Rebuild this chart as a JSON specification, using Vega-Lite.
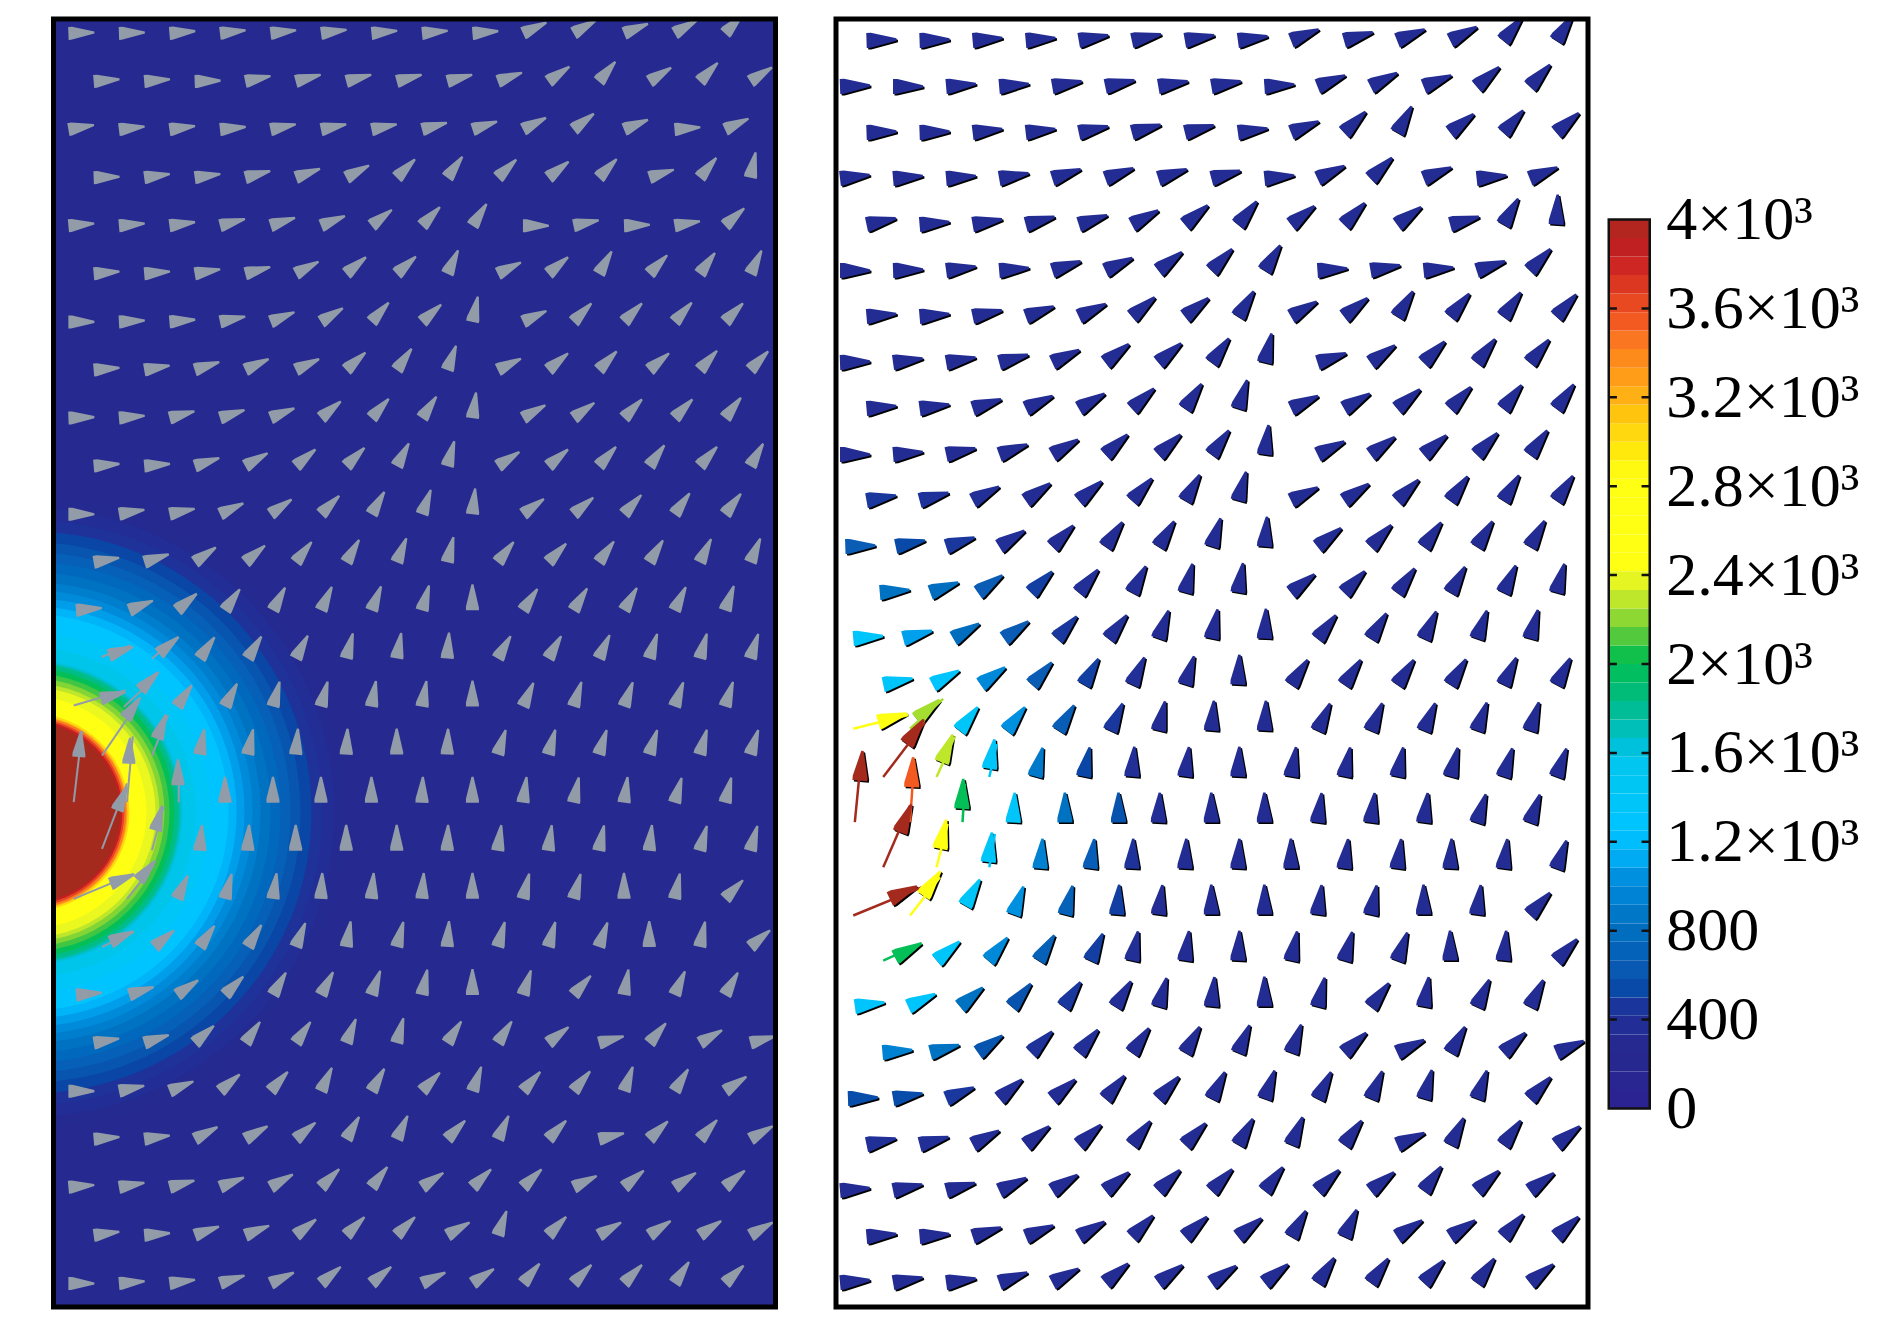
{"$schema":"https://vega.github.io/schema/vega-lite/v6.json","background":"white","padding":{"left":50.5,"top":16,"right":0,"bottom":0},"autosize":{"type":"pad"},"spacing":13.25,"config":{"view":{"stroke":null}},
"datasets":{
"rings":[{"x":-1.5,"y":16.2,"r":326,"v":220},{"x":-1.5,"y":16.2,"r":316,"v":260},{"x":-1.5,"y":16.2,"r":304,"v":330},{"x":-1.5,"y":16.2,"r":292,"v":400},{"x":-1.5,"y":16.2,"r":281,"v":480},{"x":-1.5,"y":16.2,"r":270,"v":560},{"x":-1.5,"y":16.2,"r":260,"v":640},{"x":-1.5,"y":16.2,"r":250,"v":720},{"x":-1.5,"y":16.2,"r":240,"v":800},{"x":-1.5,"y":16.2,"r":230,"v":880},{"x":-1.5,"y":16.2,"r":222,"v":960},{"x":-1.5,"y":16.2,"r":214,"v":1040},{"x":-1.5,"y":16.2,"r":206,"v":1120},{"x":-1.5,"y":16.2,"r":198,"v":1200},{"x":-1.5,"y":16.2,"r":180,"v":1360},{"x":-1.5,"y":16.2,"r":165,"v":1520},{"x":-1.5,"y":16.2,"r":152,"v":1600},{"x":-1.5,"y":16.2,"r":150,"v":1700},{"x":-1.5,"y":16.2,"r":148,"v":1800},{"x":-1.5,"y":16.2,"r":144,"v":1950},{"x":-1.5,"y":16.2,"r":139,"v":2050},{"x":-1.5,"y":16.2,"r":134,"v":2150},{"x":-1.5,"y":16.2,"r":129,"v":2250},{"x":-1.5,"y":16.2,"r":125,"v":2350},{"x":-1.5,"y":16.2,"r":116,"v":2500},{"x":-1.5,"y":16.2,"r":108,"v":2700},{"x":-1.5,"y":16.2,"r":101,"v":2800},{"x":-1.5,"y":16.2,"r":99,"v":3000},{"x":-1.5,"y":16.2,"r":97,"v":3200},{"x":-1.5,"y":16.2,"r":96,"v":3400},{"x":-1.5,"y":16.2,"r":94,"v":3600},{"x":-1.5,"y":16.2,"r":92,"v":3800},{"x":-1.5,"y":16.2,"r":90,"v":4000}],
"LT":[{"x":0.21,"y":13.98,"x2":2.26,"y2":13.66},{"x":2.19,"y":14.01,"x2":3.45,"y2":13.39},{"x":1.33,"y":15.02,"x2":2.78,"y2":13.91},{"x":0.21,"y":15.99,"x2":0.54,"y2":14.51},{"x":2.32,"y":15.99,"x2":2.55,"y2":14.62},{"x":1.33,"y":16.96,"x2":2.32,"y2":15.6},{"x":3.31,"y":15.02,"x2":3.95,"y2":14.18},{"x":4.37,"y":15.99,"x2":4.37,"y2":15.26},{"x":3.31,"y":16.99,"x2":3.77,"y2":16.09},{"x":0.21,"y":18,"x2":2.59,"y2":17.48},{"x":2.32,"y":18,"x2":3.38,"y2":17.3},{"x":1.33,"y":19,"x2":2.59,"y2":18.69},{"x":1.31,"y":12.97,"x2":2.45,"y2":12.73},{"x":3.31,"y":13,"x2":4.17,"y2":12.62}],
"L":[
{"x":0,"y":0,"a":88},{"x":2,"y":0,"a":88},{"x":4,"y":0,"a":85},{"x":6,"y":0,"a":83},{"x":8,"y":0,"a":83},{"x":10,"y":0,"a":82},{"x":12,"y":0,"a":84},{"x":14,"y":0,"a":84},{"x":16,"y":0,"a":85},{"x":18,"y":0,"a":65},{"x":20,"y":0,"a":60},{"x":22,"y":0,"a":68},{"x":24,"y":0,"a":60},{"x":26,"y":0,"a":43},
{"x":1,"y":1,"a":85},{"x":3,"y":1,"a":85},{"x":5,"y":1,"a":88},{"x":7,"y":1,"a":78},{"x":9,"y":1,"a":75},{"x":11,"y":1,"a":75},{"x":13,"y":1,"a":75},{"x":15,"y":1,"a":75},{"x":17,"y":1,"a":70},{"x":19,"y":1,"a":55},{"x":21,"y":1,"a":40},{"x":23,"y":1,"a":58},{"x":25,"y":1,"a":44},{"x":27,"y":1,"a":57},
{"x":0,"y":2,"a":80},{"x":2,"y":2,"a":83},{"x":4,"y":2,"a":82},{"x":6,"y":2,"a":84},{"x":8,"y":2,"a":78},{"x":10,"y":2,"a":78},{"x":12,"y":2,"a":78},{"x":14,"y":2,"a":75},{"x":16,"y":2,"a":72},{"x":18,"y":2,"a":63},{"x":20,"y":2,"a":52},{"x":22,"y":2,"a":68},{"x":24,"y":2,"a":85},{"x":26,"y":2,"a":65},
{"x":1,"y":3,"a":88},{"x":3,"y":3,"a":82},{"x":5,"y":3,"a":82},{"x":7,"y":3,"a":75},{"x":9,"y":3,"a":70},{"x":11,"y":3,"a":62},{"x":13,"y":3,"a":45},{"x":15,"y":3,"a":36},{"x":17,"y":3,"a":46},{"x":19,"y":3,"a":52},{"x":21,"y":3,"a":44},{"x":23,"y":3,"a":72},{"x":25,"y":3,"a":40},{"x":27,"y":3,"a":12},
{"x":0,"y":4,"a":85},{"x":2,"y":4,"a":85},{"x":4,"y":4,"a":82},{"x":6,"y":4,"a":75},{"x":8,"y":4,"a":72},{"x":10,"y":4,"a":68},{"x":12,"y":4,"a":52},{"x":14,"y":4,"a":44},{"x":16,"y":4,"a":33},{"x":18,"y":4,"a":90},{"x":20,"y":4,"a":78},{"x":22,"y":4,"a":88},{"x":24,"y":4,"a":80},{"x":26,"y":4,"a":48},
{"x":1,"y":5,"a":85},{"x":3,"y":5,"a":85},{"x":5,"y":5,"a":80},{"x":7,"y":5,"a":75},{"x":9,"y":5,"a":62},{"x":11,"y":5,"a":50},{"x":13,"y":5,"a":48},{"x":15,"y":5,"a":25},{"x":17,"y":5,"a":64},{"x":19,"y":5,"a":50},{"x":21,"y":5,"a":30},{"x":23,"y":5,"a":44},{"x":25,"y":5,"a":36},{"x":27,"y":5,"a":26},
{"x":0,"y":6,"a":90},{"x":2,"y":6,"a":87},{"x":4,"y":6,"a":85},{"x":6,"y":6,"a":78},{"x":8,"y":6,"a":68},{"x":10,"y":6,"a":58},{"x":12,"y":6,"a":42},{"x":14,"y":6,"a":48},{"x":16,"y":6,"a":12},{"x":18,"y":6,"a":65},{"x":20,"y":6,"a":44},{"x":22,"y":6,"a":44},{"x":24,"y":6,"a":42},{"x":26,"y":6,"a":44},
{"x":1,"y":7,"a":85},{"x":3,"y":7,"a":80},{"x":5,"y":7,"a":72},{"x":7,"y":7,"a":65},{"x":9,"y":7,"a":65},{"x":11,"y":7,"a":48},{"x":13,"y":7,"a":35},{"x":15,"y":7,"a":20},{"x":17,"y":7,"a":64},{"x":19,"y":7,"a":50},{"x":21,"y":7,"a":44},{"x":23,"y":7,"a":50},{"x":25,"y":7,"a":42},{"x":27,"y":7,"a":44},
{"x":0,"y":8,"a":88},{"x":2,"y":8,"a":85},{"x":4,"y":8,"a":75},{"x":6,"y":8,"a":72},{"x":8,"y":8,"a":68},{"x":10,"y":8,"a":50},{"x":12,"y":8,"a":42},{"x":14,"y":8,"a":34},{"x":16,"y":8,"a":8},{"x":18,"y":8,"a":60},{"x":20,"y":8,"a":54},{"x":22,"y":8,"a":44},{"x":24,"y":8,"a":44},{"x":26,"y":8,"a":38},
{"x":1,"y":9,"a":85},{"x":3,"y":9,"a":85},{"x":5,"y":9,"a":72},{"x":7,"y":9,"a":60},{"x":9,"y":9,"a":50},{"x":11,"y":9,"a":45},{"x":13,"y":9,"a":28},{"x":15,"y":9,"a":16},{"x":17,"y":9,"a":57},{"x":19,"y":9,"a":50},{"x":21,"y":9,"a":42},{"x":23,"y":9,"a":36},{"x":25,"y":9,"a":42},{"x":27,"y":9,"a":30},
{"x":0,"y":10,"a":90},{"x":2,"y":10,"a":80},{"x":4,"y":10,"a":78},{"x":6,"y":10,"a":65},{"x":8,"y":10,"a":55},{"x":10,"y":10,"a":45},{"x":12,"y":10,"a":30},{"x":14,"y":10,"a":20},{"x":16,"y":10,"a":6},{"x":18,"y":10,"a":54},{"x":20,"y":10,"a":50},{"x":22,"y":10,"a":42},{"x":24,"y":10,"a":36},{"x":26,"y":10,"a":38},
{"x":1,"y":11,"a":80},{"x":3,"y":11,"a":72},{"x":5,"y":11,"a":55},{"x":7,"y":11,"a":50},{"x":9,"y":11,"a":38},{"x":11,"y":11,"a":30},{"x":13,"y":11,"a":22},{"x":15,"y":11,"a":14},{"x":17,"y":11,"a":38},{"x":19,"y":11,"a":44},{"x":21,"y":11,"a":36},{"x":23,"y":11,"a":32},{"x":25,"y":11,"a":26},{"x":27,"y":11,"a":23},
{"x":0.3,"y":12,"a":85},{"x":2.4,"y":12,"a":68},{"x":4.3,"y":12,"a":50},{"x":6.2,"y":12,"a":35},{"x":8.1,"y":12,"a":28},{"x":10,"y":12,"a":25},{"x":12,"y":12,"a":22},{"x":14,"y":12,"a":16},{"x":16,"y":12,"a":0},{"x":18,"y":12,"a":34},{"x":20,"y":12,"a":32},{"x":22,"y":12,"a":30},{"x":24,"y":12,"a":26},{"x":26,"y":12,"a":20},
{"x":1.6,"y":12.94,"a":70},{"x":3.58,"y":12.9,"a":50},{"x":5.2,"y":13,"a":35},{"x":7.1,"y":13,"a":32},{"x":9,"y":13,"a":28},{"x":11,"y":13,"a":15},{"x":13,"y":13,"a":10},{"x":15,"y":13,"a":4},{"x":17,"y":13,"a":30},{"x":19,"y":13,"a":30},{"x":21,"y":13,"a":25},{"x":23,"y":13,"a":18},{"x":25,"y":13,"a":16},{"x":27,"y":13,"a":18},
{"x":1.27,"y":13.84,"a":75},{"x":2.85,"y":13.66,"a":45},{"x":4.3,"y":14,"a":35},{"x":6.2,"y":14,"a":28},{"x":8.1,"y":14,"a":15},{"x":10,"y":14,"a":15},{"x":12,"y":14,"a":10},{"x":14,"y":14,"a":10},{"x":16,"y":14,"a":0},{"x":18,"y":14,"a":24},{"x":20,"y":14,"a":18},{"x":22,"y":14,"a":20},{"x":24,"y":14,"a":20},{"x":26,"y":14,"a":18},
{"x":2.26,"y":14.25,"a":35},{"x":3.51,"y":14.67,"a":20},{"x":5.2,"y":15,"a":10},{"x":7.1,"y":15,"a":12},{"x":9,"y":15,"a":5},{"x":11,"y":15,"a":3},{"x":13,"y":15,"a":0},{"x":15,"y":15,"a":2},{"x":17,"y":15,"a":18},{"x":19,"y":15,"a":16},{"x":21,"y":15,"a":18},{"x":23,"y":15,"a":18},{"x":25,"y":15,"a":16},{"x":27,"y":15,"a":18},
{"x":0.41,"y":15.05,"a":5},{"x":2.39,"y":15.19,"a":3},{"x":4.34,"y":15.64,"a":0},{"x":6.2,"y":16,"a":0},{"x":8.1,"y":16,"a":0},{"x":10,"y":16,"a":0},{"x":12,"y":16,"a":0},{"x":14,"y":16,"a":2},{"x":16,"y":16,"a":0},{"x":18,"y":16,"a":8},{"x":20,"y":16,"a":12},{"x":22,"y":16,"a":8},{"x":24,"y":16,"a":16},{"x":26,"y":16,"a":14},
{"x":1.93,"y":16.16,"a":22},{"x":3.45,"y":16.58,"a":15},{"x":5.2,"y":17,"a":5},{"x":7.1,"y":17,"a":3},{"x":9,"y":17,"a":0},{"x":11,"y":17,"a":0},{"x":13,"y":17,"a":0},{"x":15,"y":17,"a":2},{"x":17,"y":17,"a":8},{"x":19,"y":17,"a":8},{"x":21,"y":17,"a":12},{"x":23,"y":17,"a":6},{"x":25,"y":17,"a":16},{"x":27,"y":17,"a":16},
{"x":1.66,"y":17.69,"a":68},{"x":2.78,"y":17.62,"a":40},{"x":4.3,"y":18,"a":25},{"x":6.2,"y":18,"a":15},{"x":8.1,"y":18,"a":8},{"x":10,"y":18,"a":3},{"x":12,"y":18,"a":5},{"x":14,"y":18,"a":4},{"x":16,"y":18,"a":0},{"x":18,"y":18,"a":14},{"x":20,"y":18,"a":16},{"x":22,"y":18,"a":0},{"x":24,"y":18,"a":12},{"x":26,"y":18,"a":44},
{"x":1.66,"y":18.9,"a":65},{"x":3.4,"y":19,"a":50},{"x":5.2,"y":19,"a":35},{"x":7.1,"y":19,"a":32},{"x":9,"y":19,"a":22},{"x":11,"y":19,"a":10},{"x":13,"y":19,"a":15},{"x":15,"y":19,"a":4},{"x":17,"y":19,"a":16},{"x":19,"y":19,"a":16},{"x":21,"y":19,"a":20},{"x":23,"y":19,"a":0},{"x":25,"y":19,"a":12},{"x":27,"y":19,"a":50},
{"x":0.3,"y":20,"a":85},{"x":2.4,"y":20,"a":72},{"x":4.3,"y":20,"a":55},{"x":6.2,"y":20,"a":45},{"x":8.1,"y":20,"a":30},{"x":10,"y":20,"a":28},{"x":12,"y":20,"a":20},{"x":14,"y":20,"a":12},{"x":16,"y":20,"a":0},{"x":18,"y":20,"a":18},{"x":20,"y":20,"a":42},{"x":22,"y":20,"a":10},{"x":24,"y":20,"a":24},{"x":26,"y":20,"a":30},
{"x":1,"y":21,"a":80},{"x":3,"y":21,"a":72},{"x":5,"y":21,"a":48},{"x":7,"y":21,"a":35},{"x":9,"y":21,"a":35},{"x":11,"y":21,"a":22},{"x":13,"y":21,"a":15},{"x":15,"y":21,"a":33},{"x":17,"y":21,"a":33},{"x":19,"y":21,"a":52},{"x":21,"y":21,"a":75},{"x":23,"y":21,"a":40},{"x":25,"y":21,"a":60},{"x":27,"y":21,"a":75},
{"x":0,"y":22,"a":90},{"x":2,"y":22,"a":78},{"x":4,"y":22,"a":68},{"x":6,"y":22,"a":50},{"x":8,"y":22,"a":42},{"x":10,"y":22,"a":25},{"x":12,"y":22,"a":30},{"x":14,"y":22,"a":44},{"x":16,"y":22,"a":20},{"x":18,"y":22,"a":42},{"x":20,"y":22,"a":40},{"x":22,"y":22,"a":20},{"x":24,"y":22,"a":32},{"x":26,"y":22,"a":56},
{"x":1,"y":23,"a":85},{"x":3,"y":23,"a":82},{"x":5,"y":23,"a":62},{"x":7,"y":23,"a":60},{"x":9,"y":23,"a":50},{"x":11,"y":23,"a":30},{"x":13,"y":23,"a":25},{"x":15,"y":23,"a":44},{"x":17,"y":23,"a":25},{"x":19,"y":23,"a":44},{"x":21,"y":23,"a":77},{"x":23,"y":23,"a":46},{"x":25,"y":23,"a":42},{"x":27,"y":23,"a":60},
{"x":0,"y":24,"a":85},{"x":2,"y":24,"a":80},{"x":4,"y":24,"a":75},{"x":6,"y":24,"a":68},{"x":8,"y":24,"a":60},{"x":10,"y":24,"a":45},{"x":12,"y":24,"a":38},{"x":14,"y":24,"a":56},{"x":16,"y":24,"a":46},{"x":18,"y":24,"a":46},{"x":20,"y":24,"a":64},{"x":22,"y":24,"a":50},{"x":24,"y":24,"a":56},{"x":26,"y":24,"a":50},
{"x":1,"y":25,"a":82},{"x":3,"y":25,"a":85},{"x":5,"y":25,"a":70},{"x":7,"y":25,"a":68},{"x":9,"y":25,"a":52},{"x":11,"y":25,"a":45},{"x":13,"y":25,"a":45},{"x":15,"y":25,"a":60},{"x":17,"y":25,"a":20},{"x":19,"y":25,"a":44},{"x":21,"y":25,"a":60},{"x":23,"y":25,"a":56},{"x":25,"y":25,"a":56},{"x":27,"y":25,"a":60},
{"x":0,"y":26,"a":90},{"x":2,"y":26,"a":85},{"x":4,"y":26,"a":82},{"x":6,"y":26,"a":72},{"x":8,"y":26,"a":65},{"x":10,"y":26,"a":50},{"x":12,"y":26,"a":50},{"x":14,"y":26,"a":65},{"x":16,"y":26,"a":56},{"x":18,"y":26,"a":40},{"x":20,"y":26,"a":44},{"x":22,"y":26,"a":44},{"x":24,"y":26,"a":34},{"x":26,"y":26,"a":46}],
"RT":[{"x":0.5,"y":14.96,"x2":2.57,"y2":14.66,"v":2650},{"x":2.64,"y":14.96,"x2":3.89,"y2":14.31,"v":2200},{"x":1.63,"y":16.01,"x2":3.2,"y2":14.82,"v":4000},{"x":3.64,"y":16.01,"x2":4.33,"y2":15.13,"v":2250},{"x":5.63,"y":16.01,"x2":5.91,"y2":15.29,"v":1350},{"x":0.56,"y":16.99,"x2":0.81,"y2":15.51,"v":4000},{"x":2.64,"y":16.99,"x2":2.8,"y2":15.65,"v":3500},{"x":4.62,"y":16.99,"x2":4.71,"y2":16.16,"v":1950},{"x":1.63,"y":17.97,"x2":2.64,"y2":16.63,"v":4000},{"x":3.64,"y":17.97,"x2":4.06,"y2":17.03,"v":2650},{"x":5.63,"y":17.97,"x2":5.84,"y2":17.25,"v":1350},{"x":0.5,"y":19.02,"x2":3.08,"y2":18.41,"v":4000},{"x":2.64,"y":19.02,"x2":3.77,"y2":18.19,"v":2650},{"x":1.63,"y":20,"x2":3.08,"y2":19.62,"v":1950}],
"R":[
{"x":1,"y":0,"a":88,"v":300},{"x":3,"y":0,"a":88,"v":300},{"x":5,"y":0,"a":85,"v":300},{"x":7,"y":0,"a":85,"v":300},{"x":9,"y":0,"a":80,"v":300},{"x":11,"y":0,"a":78,"v":300},{"x":13,"y":0,"a":80,"v":300},{"x":15,"y":0,"a":82,"v":300},{"x":17,"y":0,"a":68,"v":300},{"x":19,"y":0,"a":74,"v":300},{"x":21,"y":0,"a":68,"v":300},{"x":23,"y":0,"a":63,"v":300},{"x":25,"y":0,"a":39,"v":300},{"x":27,"y":0,"a":33,"v":300},
{"x":0,"y":1,"a":88,"v":300},{"x":2,"y":1,"a":90,"v":300},{"x":4,"y":1,"a":85,"v":300},{"x":6,"y":1,"a":85,"v":300},{"x":8,"y":1,"a":80,"v":300},{"x":10,"y":1,"a":78,"v":300},{"x":12,"y":1,"a":80,"v":300},{"x":14,"y":1,"a":80,"v":300},{"x":16,"y":1,"a":86,"v":300},{"x":18,"y":1,"a":68,"v":300},{"x":20,"y":1,"a":63,"v":300},{"x":22,"y":1,"a":68,"v":300},{"x":24,"y":1,"a":49,"v":300},{"x":26,"y":1,"a":43,"v":300},
{"x":1,"y":2,"a":88,"v":300},{"x":3,"y":2,"a":88,"v":300},{"x":5,"y":2,"a":83,"v":300},{"x":7,"y":2,"a":83,"v":300},{"x":9,"y":2,"a":78,"v":300},{"x":11,"y":2,"a":75,"v":300},{"x":13,"y":2,"a":76,"v":300},{"x":15,"y":2,"a":82,"v":300},{"x":17,"y":2,"a":68,"v":300},{"x":19,"y":2,"a":46,"v":300},{"x":21,"y":2,"a":29,"v":300},{"x":23,"y":2,"a":52,"v":300},{"x":25,"y":2,"a":42,"v":300},{"x":27,"y":2,"a":49,"v":300},
{"x":0,"y":3,"a":83,"v":300},{"x":2,"y":3,"a":85,"v":300},{"x":4,"y":3,"a":85,"v":300},{"x":6,"y":3,"a":80,"v":300},{"x":8,"y":3,"a":72,"v":300},{"x":10,"y":3,"a":70,"v":300},{"x":12,"y":3,"a":72,"v":300},{"x":14,"y":3,"a":75,"v":300},{"x":16,"y":3,"a":84,"v":300},{"x":18,"y":3,"a":65,"v":300},{"x":20,"y":3,"a":46,"v":300},{"x":22,"y":3,"a":68,"v":300},{"x":24,"y":3,"a":84,"v":300},{"x":26,"y":3,"a":68,"v":300},
{"x":1,"y":4,"a":78,"v":300},{"x":3,"y":4,"a":85,"v":300},{"x":5,"y":4,"a":80,"v":300},{"x":7,"y":4,"a":75,"v":300},{"x":9,"y":4,"a":72,"v":300},{"x":11,"y":4,"a":62,"v":300},{"x":13,"y":4,"a":50,"v":300},{"x":15,"y":4,"a":39,"v":300},{"x":17,"y":4,"a":52,"v":300},{"x":19,"y":4,"a":44,"v":300},{"x":21,"y":4,"a":54,"v":300},{"x":23,"y":4,"a":75,"v":300},{"x":25,"y":4,"a":30,"v":300},{"x":27,"y":4,"a":3,"v":300},
{"x":0,"y":5,"a":90,"v":300},{"x":2,"y":5,"a":88,"v":300},{"x":4,"y":5,"a":82,"v":300},{"x":6,"y":5,"a":85,"v":300},{"x":8,"y":5,"a":72,"v":300},{"x":10,"y":5,"a":65,"v":300},{"x":12,"y":5,"a":52,"v":300},{"x":14,"y":5,"a":44,"v":300},{"x":16,"y":5,"a":32,"v":300},{"x":18,"y":5,"a":86,"v":300},{"x":20,"y":5,"a":80,"v":300},{"x":22,"y":5,"a":84,"v":300},{"x":24,"y":5,"a":72,"v":300},{"x":26,"y":5,"a":44,"v":300},
{"x":1,"y":6,"a":85,"v":300},{"x":3,"y":6,"a":85,"v":300},{"x":5,"y":6,"a":78,"v":300},{"x":7,"y":6,"a":70,"v":300},{"x":9,"y":6,"a":65,"v":300},{"x":11,"y":6,"a":50,"v":300},{"x":13,"y":6,"a":52,"v":300},{"x":15,"y":6,"a":32,"v":300},{"x":17,"y":6,"a":60,"v":300},{"x":19,"y":6,"a":52,"v":300},{"x":21,"y":6,"a":32,"v":300},{"x":23,"y":6,"a":40,"v":300},{"x":25,"y":6,"a":36,"v":300},{"x":27,"y":6,"a":42,"v":300},
{"x":0,"y":7,"a":88,"v":300},{"x":2,"y":7,"a":82,"v":300},{"x":4,"y":7,"a":80,"v":300},{"x":6,"y":7,"a":75,"v":300},{"x":8,"y":7,"a":65,"v":300},{"x":10,"y":7,"a":52,"v":300},{"x":12,"y":7,"a":50,"v":300},{"x":14,"y":7,"a":36,"v":300},{"x":16,"y":7,"a":14,"v":300},{"x":18,"y":7,"a":72,"v":300},{"x":20,"y":7,"a":55,"v":300},{"x":22,"y":7,"a":45,"v":300},{"x":24,"y":7,"a":38,"v":300},{"x":26,"y":7,"a":40,"v":300},
{"x":1,"y":8,"a":85,"v":300},{"x":3,"y":8,"a":82,"v":300},{"x":5,"y":8,"a":72,"v":300},{"x":7,"y":8,"a":65,"v":300},{"x":9,"y":8,"a":60,"v":300},{"x":11,"y":8,"a":48,"v":300},{"x":13,"y":8,"a":34,"v":300},{"x":15,"y":8,"a":18,"v":300},{"x":17,"y":8,"a":65,"v":300},{"x":19,"y":8,"a":60,"v":300},{"x":21,"y":8,"a":50,"v":300},{"x":23,"y":8,"a":44,"v":300},{"x":25,"y":8,"a":38,"v":300},{"x":27,"y":8,"a":36,"v":300},
{"x":0,"y":9,"a":90,"v":300},{"x":2,"y":9,"a":85,"v":300},{"x":4,"y":9,"a":78,"v":300},{"x":6,"y":9,"a":70,"v":300},{"x":8,"y":9,"a":60,"v":300},{"x":10,"y":9,"a":48,"v":300},{"x":12,"y":9,"a":48,"v":300},{"x":14,"y":9,"a":36,"v":300},{"x":16,"y":9,"a":8,"v":300},{"x":18,"y":9,"a":64,"v":300},{"x":20,"y":9,"a":54,"v":300},{"x":22,"y":9,"a":50,"v":300},{"x":24,"y":9,"a":44,"v":300},{"x":26,"y":9,"a":36,"v":300},
{"x":1,"y":10,"a":80,"v":420},{"x":3,"y":10,"a":75,"v":400},{"x":5,"y":10,"a":62,"v":350},{"x":7,"y":10,"a":55,"v":300},{"x":9,"y":10,"a":50,"v":300},{"x":11,"y":10,"a":42,"v":300},{"x":13,"y":10,"a":30,"v":300},{"x":15,"y":10,"a":16,"v":300},{"x":17,"y":10,"a":64,"v":300},{"x":19,"y":10,"a":56,"v":300},{"x":21,"y":10,"a":46,"v":300},{"x":23,"y":10,"a":36,"v":300},{"x":25,"y":10,"a":32,"v":300},{"x":27,"y":10,"a":34,"v":300},
{"x":0.2,"y":11,"a":88,"v":600},{"x":2.1,"y":11,"a":78,"v":500},{"x":4,"y":11,"a":72,"v":420},{"x":6,"y":11,"a":58,"v":350},{"x":8,"y":11,"a":45,"v":300},{"x":10,"y":11,"a":35,"v":300},{"x":12,"y":11,"a":32,"v":300},{"x":14,"y":11,"a":18,"v":300},{"x":16,"y":11,"a":5,"v":300},{"x":18,"y":11,"a":52,"v":300},{"x":20,"y":11,"a":44,"v":300},{"x":22,"y":11,"a":36,"v":300},{"x":24,"y":11,"a":32,"v":300},{"x":26,"y":11,"a":30,"v":300},
{"x":1.5,"y":12,"a":85,"v":800},{"x":3.4,"y":12,"a":70,"v":750},{"x":5.2,"y":12,"a":55,"v":600},{"x":7.2,"y":12,"a":45,"v":450},{"x":9,"y":12,"a":40,"v":350},{"x":11,"y":12,"a":28,"v":320},{"x":13,"y":12,"a":15,"v":300},{"x":15,"y":12,"a":10,"v":300},{"x":17,"y":12,"a":52,"v":300},{"x":19,"y":12,"a":44,"v":300},{"x":21,"y":12,"a":36,"v":300},{"x":23,"y":12,"a":30,"v":300},{"x":25,"y":12,"a":25,"v":300},{"x":27,"y":12,"a":16,"v":300},
{"x":0.5,"y":13,"a":85,"v":1300},{"x":2.38,"y":13,"a":75,"v":1050},{"x":4.27,"y":13,"a":60,"v":750},{"x":6.18,"y":13,"a":55,"v":600},{"x":8.17,"y":13,"a":42,"v":420},{"x":10.12,"y":13,"a":38,"v":350},{"x":12,"y":13,"a":20,"v":300},{"x":14,"y":13,"a":12,"v":300},{"x":16,"y":13,"a":3,"v":300},{"x":18,"y":13,"a":38,"v":300},{"x":20,"y":13,"a":32,"v":300},{"x":22,"y":13,"a":25,"v":300},{"x":24,"y":13,"a":20,"v":300},{"x":26,"y":13,"a":16,"v":300},
{"x":1.63,"y":14,"a":78,"v":1300},{"x":3.49,"y":14,"a":62,"v":1250},{"x":5.3,"y":14,"a":55,"v":950},{"x":7.23,"y":14,"a":42,"v":600},{"x":9.18,"y":14,"a":30,"v":450},{"x":11,"y":14,"a":25,"v":350},{"x":13,"y":14,"a":18,"v":300},{"x":15,"y":14,"a":3,"v":300},{"x":17,"y":14,"a":34,"v":300},{"x":19,"y":14,"a":34,"v":300},{"x":21,"y":14,"a":34,"v":300},{"x":23,"y":14,"a":32,"v":300},{"x":25,"y":14,"a":26,"v":300},{"x":27,"y":14,"a":28,"v":300},
{"x":1.44,"y":14.82,"a":73,"v":2650},{"x":2.89,"y":14.75,"a":50,"v":2200},{"x":4.5,"y":15,"a":38,"v":1350},{"x":6.28,"y":15,"a":38,"v":1000},{"x":8.23,"y":15,"a":32,"v":620},{"x":10.18,"y":15,"a":25,"v":420},{"x":12,"y":15,"a":13,"v":300},{"x":14,"y":15,"a":5,"v":300},{"x":16,"y":15,"a":3,"v":300},{"x":18,"y":15,"a":25,"v":300},{"x":20,"y":15,"a":23,"v":300},{"x":22,"y":15,"a":23,"v":300},{"x":24,"y":15,"a":20,"v":300},{"x":26,"y":15,"a":18,"v":300},
{"x":2.51,"y":15.29,"a":35,"v":4000},{"x":3.83,"y":15.69,"a":22,"v":2250},{"x":5.63,"y":15.83,"a":10,"v":1350},{"x":7.35,"y":16,"a":15,"v":850},{"x":9.18,"y":16,"a":12,"v":480},{"x":11,"y":16,"a":5,"v":350},{"x":13,"y":16,"a":8,"v":300},{"x":15,"y":16,"a":3,"v":300},{"x":17,"y":16,"a":10,"v":300},{"x":19,"y":16,"a":12,"v":300},{"x":21,"y":16,"a":12,"v":300},{"x":23,"y":16,"a":15,"v":300},{"x":25,"y":16,"a":18,"v":300},{"x":27,"y":16,"a":20,"v":300},
{"x":0.75,"y":16.09,"a":5,"v":4000},{"x":2.7,"y":16.23,"a":3,"v":3500},{"x":4.59,"y":16.7,"a":3,"v":1950},{"x":6.53,"y":17,"a":3,"v":1300},{"x":8.48,"y":17,"a":0,"v":800},{"x":10.5,"y":17,"a":0,"v":550},{"x":12,"y":17,"a":3,"v":320},{"x":14,"y":17,"a":0,"v":300},{"x":16,"y":17,"a":0,"v":300},{"x":18,"y":17,"a":8,"v":300},{"x":20,"y":17,"a":8,"v":300},{"x":22,"y":17,"a":8,"v":300},{"x":24,"y":17,"a":18,"v":300},{"x":26,"y":17,"a":20,"v":300},
{"x":2.26,"y":17.21,"a":22,"v":4000},{"x":3.77,"y":17.57,"a":12,"v":2650},{"x":5.59,"y":17.86,"a":7,"v":1350},{"x":7.54,"y":18,"a":5,"v":900},{"x":9.43,"y":18,"a":8,"v":620},{"x":11,"y":18,"a":3,"v":400},{"x":13,"y":18,"a":3,"v":300},{"x":15,"y":18,"a":3,"v":300},{"x":17,"y":18,"a":0,"v":300},{"x":19,"y":18,"a":8,"v":300},{"x":21,"y":18,"a":8,"v":300},{"x":23,"y":18,"a":3,"v":300},{"x":25,"y":18,"a":8,"v":300},{"x":27,"y":18,"a":20,"v":300},
{"x":1.88,"y":18.66,"a":65,"v":4000},{"x":3.14,"y":18.59,"a":35,"v":2650},{"x":4.71,"y":18.8,"a":30,"v":1350},{"x":6.53,"y":19,"a":20,"v":1000},{"x":8.48,"y":19,"a":15,"v":650},{"x":10.43,"y":19,"a":5,"v":450},{"x":12,"y":19,"a":8,"v":300},{"x":14,"y":19,"a":0,"v":300},{"x":16,"y":19,"a":0,"v":300},{"x":18,"y":19,"a":8,"v":300},{"x":20,"y":19,"a":12,"v":300},{"x":22,"y":19,"a":0,"v":300},{"x":24,"y":19,"a":8,"v":300},{"x":26,"y":19,"a":43,"v":300},
{"x":2.07,"y":19.93,"a":62,"v":1950},{"x":3.64,"y":20,"a":50,"v":1300},{"x":5.59,"y":20,"a":40,"v":950},{"x":7.48,"y":20,"a":32,"v":650},{"x":9.43,"y":20,"a":25,"v":450},{"x":11,"y":20,"a":12,"v":350},{"x":13,"y":20,"a":8,"v":300},{"x":15,"y":20,"a":3,"v":300},{"x":17,"y":20,"a":12,"v":300},{"x":19,"y":20,"a":16,"v":300},{"x":21,"y":20,"a":20,"v":300},{"x":23,"y":20,"a":0,"v":300},{"x":25,"y":20,"a":6,"v":300},{"x":27,"y":20,"a":44,"v":300},
{"x":0.56,"y":21,"a":82,"v":1250},{"x":2.57,"y":21,"a":65,"v":1250},{"x":4.52,"y":21,"a":50,"v":800},{"x":6.47,"y":21,"a":40,"v":550},{"x":8.42,"y":21,"a":35,"v":420},{"x":10.37,"y":21,"a":32,"v":320},{"x":12,"y":21,"a":16,"v":300},{"x":14,"y":21,"a":6,"v":300},{"x":16,"y":21,"a":0,"v":300},{"x":18,"y":21,"a":14,"v":300},{"x":20,"y":21,"a":38,"v":300},{"x":22,"y":21,"a":10,"v":300},{"x":24,"y":21,"a":25,"v":300},{"x":26,"y":21,"a":27,"v":300},
{"x":1.6,"y":22,"a":85,"v":900},{"x":3.4,"y":22,"a":75,"v":800},{"x":5.2,"y":22,"a":55,"v":560},{"x":7.2,"y":22,"a":45,"v":400},{"x":9,"y":22,"a":40,"v":350},{"x":11,"y":22,"a":35,"v":300},{"x":13,"y":22,"a":30,"v":300},{"x":15,"y":22,"a":23,"v":300},{"x":17,"y":22,"a":20,"v":300},{"x":19,"y":22,"a":48,"v":300},{"x":21,"y":22,"a":65,"v":300},{"x":23,"y":22,"a":30,"v":300},{"x":25,"y":22,"a":48,"v":300},{"x":27,"y":22,"a":67,"v":300},
{"x":0.3,"y":23,"a":88,"v":520},{"x":2,"y":23,"a":80,"v":520},{"x":4,"y":23,"a":68,"v":420},{"x":6,"y":23,"a":50,"v":320},{"x":8,"y":23,"a":50,"v":300},{"x":10,"y":23,"a":40,"v":300},{"x":12,"y":23,"a":43,"v":300},{"x":14,"y":23,"a":27,"v":300},{"x":16,"y":23,"a":20,"v":300},{"x":18,"y":23,"a":27,"v":300},{"x":20,"y":23,"a":23,"v":300},{"x":22,"y":23,"a":16,"v":300},{"x":24,"y":23,"a":20,"v":300},{"x":26,"y":23,"a":44,"v":300},
{"x":1,"y":24,"a":78,"v":360},{"x":3,"y":24,"a":75,"v":340},{"x":5,"y":24,"a":62,"v":320},{"x":7,"y":24,"a":52,"v":300},{"x":9,"y":24,"a":48,"v":300},{"x":11,"y":24,"a":38,"v":300},{"x":13,"y":24,"a":44,"v":300},{"x":15,"y":24,"a":30,"v":300},{"x":17,"y":24,"a":23,"v":300},{"x":19,"y":24,"a":36,"v":300},{"x":21,"y":24,"a":67,"v":300},{"x":23,"y":24,"a":27,"v":300},{"x":25,"y":24,"a":36,"v":300},{"x":27,"y":24,"a":52,"v":300},
{"x":0,"y":25,"a":85,"v":300},{"x":2,"y":25,"a":78,"v":300},{"x":4,"y":25,"a":75,"v":300},{"x":6,"y":25,"a":65,"v":300},{"x":8,"y":25,"a":58,"v":300},{"x":10,"y":25,"a":52,"v":300},{"x":12,"y":25,"a":46,"v":300},{"x":14,"y":25,"a":44,"v":300},{"x":16,"y":25,"a":38,"v":300},{"x":18,"y":25,"a":46,"v":300},{"x":20,"y":25,"a":52,"v":300},{"x":22,"y":25,"a":36,"v":300},{"x":24,"y":25,"a":48,"v":300},{"x":26,"y":25,"a":54,"v":300},
{"x":1,"y":26,"a":85,"v":300},{"x":3,"y":26,"a":85,"v":300},{"x":5,"y":26,"a":72,"v":300},{"x":7,"y":26,"a":68,"v":300},{"x":9,"y":26,"a":60,"v":300},{"x":11,"y":26,"a":45,"v":300},{"x":13,"y":26,"a":48,"v":300},{"x":15,"y":26,"a":52,"v":300},{"x":17,"y":26,"a":30,"v":300},{"x":19,"y":26,"a":25,"v":300},{"x":21,"y":26,"a":57,"v":300},{"x":23,"y":26,"a":57,"v":300},{"x":25,"y":26,"a":42,"v":300},{"x":27,"y":26,"a":48,"v":300},
{"x":0,"y":27,"a":85,"v":300},{"x":2,"y":27,"a":80,"v":300},{"x":4,"y":27,"a":82,"v":300},{"x":6,"y":27,"a":70,"v":300},{"x":8,"y":27,"a":62,"v":300},{"x":10,"y":27,"a":50,"v":300},{"x":12,"y":27,"a":54,"v":300},{"x":14,"y":27,"a":56,"v":300},{"x":16,"y":27,"a":52,"v":300},{"x":18,"y":27,"a":34,"v":300},{"x":20,"y":27,"a":36,"v":300},{"x":22,"y":27,"a":42,"v":300},{"x":24,"y":27,"a":36,"v":300},{"x":26,"y":27,"a":52,"v":300}],
"bands":[{"a":0,"b":83},{"a":83,"b":167},{"a":167,"b":250},{"a":250,"b":333},{"a":333,"b":417},{"a":417,"b":500},{"a":500,"b":583},{"a":583,"b":667},{"a":667,"b":750},{"a":750,"b":833},{"a":833,"b":917},{"a":917,"b":1000},{"a":1000,"b":1083},{"a":1083,"b":1167},{"a":1167,"b":1250},{"a":1250,"b":1333},{"a":1333,"b":1417},{"a":1417,"b":1500},{"a":1500,"b":1583},{"a":1583,"b":1667},{"a":1667,"b":1750},{"a":1750,"b":1833},{"a":1833,"b":1917},{"a":1917,"b":2000},{"a":2000,"b":2083},{"a":2083,"b":2167},{"a":2167,"b":2250},{"a":2250,"b":2333},{"a":2333,"b":2417},{"a":2417,"b":2500},{"a":2500,"b":2583},{"a":2583,"b":2667},{"a":2667,"b":2750},{"a":2750,"b":2833},{"a":2833,"b":2917},{"a":2917,"b":3000},{"a":3000,"b":3083},{"a":3083,"b":3167},{"a":3167,"b":3250},{"a":3250,"b":3333},{"a":3333,"b":3417},{"a":3417,"b":3500},{"a":3500,"b":3583},{"a":3583,"b":3667},{"a":3667,"b":3750},{"a":3750,"b":3833},{"a":3833,"b":3917},{"a":3917,"b":4000}],
"ticks":[{"a":400},{"a":800},{"a":1200},{"a":1600},{"a":2000},{"a":2400},{"a":2800},{"a":3200},{"a":3600}]
},
"hconcat":[{"spacing":54.5,"hconcat":[
{"width":722,"height":1288,"view":{"fill":"#26298f","stroke":null},
"encoding":{"x":{"field":"x","type":"quantitative","axis":null,"scale":{"domain":[-0.59,28],"nice":false,"zero":false}},"y":{"field":"y","type":"quantitative","axis":null,"scale":{"domain":[26.49,-0.3],"nice":false,"zero":false}}},
"layer":[
{"data":{"name":"rings"},"mark":{"type":"point","filled":true,"opacity":1,"clip":true},"encoding":{"size":{"field":"r","type":"quantitative","legend":null,"scale":{"type":"pow","exponent":2,"domain":[0,320],"range":[0,409600]}},"color":{"field":"v","type":"quantitative","legend":null,"scale":{"domain":[0,240,400,480,600,800,1000,1100,1200,1500,1600,1700,1850,2000,2100,2200,2300,2400,2800,3000,3200,3400,3500,3650,3800,4000],"range":["#2b2392","#26298f","#1e329a","#0a46a5","#0a5cb4","#0072c2","#0090e0","#00b0f8","#00c4ff","#00c6f0","#00c0d8","#00bda8","#0cbc70","#10c04a","#5ccc3c","#a4de30","#d8f028","#ffff14","#ffff14","#ffd80f","#ffa818","#fb7c20","#f35a22","#df3a21","#c61d23","#a52a1e"]}}}},
{"data":{"name":"LT"},"mark":{"type":"rule","color":"#929ca8","strokeWidth":2,"clip":true},"encoding":{"x2":{"field":"x2"},"y2":{"field":"y2"}}},
{"data":{"name":"L"},"mark":{"type":"point","filled":true,"opacity":1,"color":"#929ca8","size":2704,"clip":true,"shape":"M-0.25,0 L-0.25,-0.15 L-0.04,-1 L0.04,-1 L0.25,-0.1 L0.25,0 Z"},"encoding":{"angle":{"field":"a","type":"quantitative","scale":null}}},
{"data":{"values":[{"x":-0.59,"y":26.49,"x2":28,"y2":-0.3}]},"mark":{"type":"rect","filled":false,"stroke":"black","strokeWidth":5},"encoding":{"x2":{"field":"x2"},"y2":{"field":"y2"}}}
]},
{"width":752,"height":1288,
"encoding":{"x":{"field":"x","type":"quantitative","axis":null,"scale":{"domain":[-0.15,28.2],"nice":false,"zero":false}},"y":{"field":"y","type":"quantitative","axis":null,"scale":{"domain":[27.53,-0.467],"nice":false,"zero":false}}},
"layer":[
{"data":{"name":"R"},"mark":{"type":"point","filled":true,"opacity":1,"color":"black","size":3600,"clip":true,"xOffset":1.5,"yOffset":1.5,"shape":"M-0.25,0 L-0.25,-0.15 L-0.04,-1 L0.04,-1 L0.25,-0.1 L0.25,0 Z"},"encoding":{"angle":{"field":"a","type":"quantitative","scale":null}}},
{"data":{"name":"RT"},"mark":{"type":"rule","strokeWidth":2.5},"encoding":{"x2":{"field":"x2"},"y2":{"field":"y2"},"color":{"field":"v","type":"quantitative","legend":null,"scale":{"domain":[0,240,400,480,600,800,1000,1100,1200,1500,1600,1700,1850,2000,2100,2200,2300,2400,2800,3000,3200,3400,3500,3650,3800,4000],"range":["#2b2392","#26298f","#1e329a","#0a46a5","#0a5cb4","#0072c2","#0090e0","#00b0f8","#00c4ff","#00c6f0","#00c0d8","#00bda8","#0cbc70","#10c04a","#5ccc3c","#a4de30","#d8f028","#ffff14","#ffff14","#ffd80f","#ffa818","#fb7c20","#f35a22","#df3a21","#c61d23","#a52a1e"]}}}},
{"data":{"name":"R"},"mark":{"type":"point","filled":true,"opacity":1,"size":3600,"clip":true,"shape":"M-0.25,0 L-0.25,-0.15 L-0.04,-1 L0.04,-1 L0.25,-0.1 L0.25,0 Z"},"encoding":{"angle":{"field":"a","type":"quantitative","scale":null},"color":{"field":"v","type":"quantitative","legend":null,"scale":{"domain":[0,240,400,480,600,800,1000,1100,1200,1500,1600,1700,1850,2000,2100,2200,2300,2400,2800,3000,3200,3400,3500,3650,3800,4000],"range":["#2b2392","#26298f","#1e329a","#0a46a5","#0a5cb4","#0072c2","#0090e0","#00b0f8","#00c4ff","#00c6f0","#00c0d8","#00bda8","#0cbc70","#10c04a","#5ccc3c","#a4de30","#d8f028","#ffff14","#ffff14","#ffd80f","#ffa818","#fb7c20","#f35a22","#df3a21","#c61d23","#a52a1e"]}}}},
{"data":{"values":[{"x":-0.15,"y":27.53,"x2":28.2,"y2":-0.467}]},"mark":{"type":"rect","filled":false,"stroke":"black","strokeWidth":5},"encoding":{"x2":{"field":"x2"},"y2":{"field":"y2"}}}
]}
]},
{"width":41,"height":1288,
"encoding":{"y":{"field":"a","type":"quantitative","scale":{"domain":[-893,4902],"nice":false,"zero":false},"axis":{"orient":"right","title":null,"domain":false,"ticks":false,"grid":false,"values":[0,400,800,1200,1600,2000,2400,2800,3200,3600,4000],"labelExpr":"datum.value<1000?datum.value:(datum.value/1000)+'×10³'","labelFont":"Liberation Serif","labelFontSize":62,"labelColor":"black","labelPadding":16,"labelLimit":500,"labelOverlap":false,"labelBaseline":"middle","labelFlush":false,"labelBound":false}}},
"layer":[
{"data":{"name":"bands"},"mark":{"type":"rect"},"encoding":{"y2":{"field":"b"},"color":{"field":"a","type":"quantitative","legend":null,"scale":{"domain":[0,240,400,480,600,800,1000,1100,1200,1500,1600,1700,1850,2000,2100,2200,2300,2400,2800,3000,3200,3400,3500,3650,3800,4000],"range":["#2b2392","#26298f","#1e329a","#0a46a5","#0a5cb4","#0072c2","#0090e0","#00b0f8","#00c4ff","#00c6f0","#00c0d8","#00bda8","#0cbc70","#10c04a","#5ccc3c","#a4de30","#d8f028","#ffff14","#ffff14","#ffd80f","#ffa818","#fb7c20","#f35a22","#df3a21","#c61d23","#a52a1e"]}}}},
{"data":{"values":[{"a":0,"b":4000}]},"mark":{"type":"rect","filled":false,"stroke":"#111111","strokeWidth":2.5},"encoding":{"y2":{"field":"b"}}},
{"data":{"name":"ticks"},"mark":{"type":"point","filled":false,"opacity":1,"stroke":"#111111","strokeWidth":2.5,"size":1681,"shape":"M-1,0 L-0.6,0 M0.6,0 L1,0"}}
]}
]}
